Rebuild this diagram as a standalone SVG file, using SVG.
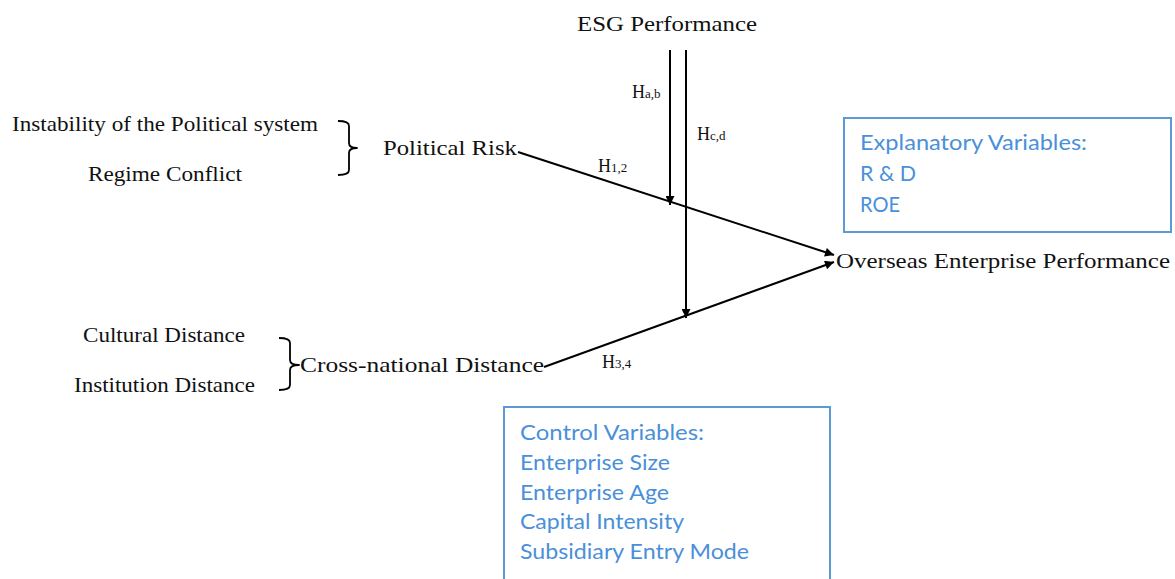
<svg xmlns="http://www.w3.org/2000/svg" width="1175" height="579" viewBox="0 0 1175 579">
<defs>
<marker id="arr" viewBox="0 0 10 10" refX="10" refY="5" markerWidth="10" markerHeight="9" orient="auto" markerUnits="userSpaceOnUse">
<path d="M0,0 L10,5 L0,10 z" fill="#000"/>
</marker>
<style>
.s{font-family:"Liberation Serif","Times New Roman",serif;font-size:22px;fill:#111}
.h{font-size:18px}
.sub{font-size:13px}
.b{font-family:Lato,"Open Sans",sans-serif;font-size:21px;fill:#4a90d9}
.box{fill:none;stroke:#5b9bd5;stroke-width:2}
.ln{stroke:#000;stroke-width:2;fill:none}
.br{stroke:#000;stroke-width:1.8;fill:none;stroke-linejoin:round}
</style>
</defs>
<rect width="1175" height="579" fill="#fff"/>
<g id="esg"><text class="s" x="577" y="31" textLength="180" lengthAdjust="spacingAndGlyphs">ESG Performance</text></g>
<g id="instability"><text class="s" x="12" y="131" textLength="306" lengthAdjust="spacingAndGlyphs">Instability of the Political system</text></g>
<g id="regime"><text class="s" x="88" y="181" textLength="154" lengthAdjust="spacingAndGlyphs">Regime Conflict</text></g>
<g id="political-risk">
<path class="br" d="M338,121 Q349,121 349,126 V143 Q349,148 357,148 Q349,148 349,153 V170 Q349,175 338,175"/>
<text class="s" x="383" y="155" textLength="134" lengthAdjust="spacingAndGlyphs">Political Risk</text>
</g>
<g id="cultural"><text class="s" x="83" y="342" textLength="162" lengthAdjust="spacingAndGlyphs">Cultural Distance</text></g>
<g id="institution"><text class="s" x="74" y="392" textLength="181" lengthAdjust="spacingAndGlyphs">Institution Distance</text></g>
<g id="cross-national">
<path class="br" d="M279,338 Q290,338 290,343 V360 Q290,365 299,365 Q290,365 290,370 V385 Q290,390 279,390"/>
<text class="s" x="300" y="372" textLength="244" lengthAdjust="spacingAndGlyphs">Cross-national Distance</text>
</g>
<g id="overseas"><text class="s" x="836" y="268" textLength="334" lengthAdjust="spacingAndGlyphs">Overseas Enterprise Performance</text></g>
<g id="explanatory">
<rect class="box" x="844" y="118" width="327" height="114"/>
<text class="b" x="860" y="150" textLength="227" lengthAdjust="spacingAndGlyphs">Explanatory Variables:</text>
<text class="b" x="860" y="181" textLength="56" lengthAdjust="spacingAndGlyphs">R &amp; D</text>
<text class="b" x="860" y="212" textLength="40" lengthAdjust="spacingAndGlyphs">ROE</text>
</g>
<g id="control">
<path class="box" d="M504,590 V407 H830 V590"/>
<text class="b" x="520" y="440" textLength="184" lengthAdjust="spacingAndGlyphs">Control Variables:</text>
<text class="b" x="520" y="470" textLength="150" lengthAdjust="spacingAndGlyphs">Enterprise Size</text>
<text class="b" x="520" y="500" textLength="149" lengthAdjust="spacingAndGlyphs">Enterprise Age</text>
<text class="b" x="520" y="529" textLength="164" lengthAdjust="spacingAndGlyphs">Capital Intensity</text>
<text class="b" x="520" y="559" textLength="229" lengthAdjust="spacingAndGlyphs">Subsidiary Entry Mode</text>
</g>
<g id="connectors">
<line class="ln" x1="518" y1="152" x2="834" y2="255" marker-end="url(#arr)"/>
<line class="ln" x1="544" y1="367" x2="834" y2="262" marker-end="url(#arr)"/>
<line class="ln" x1="670" y1="50" x2="670" y2="205" marker-end="url(#arr)"/>
<line class="ln" x1="686" y1="50" x2="686" y2="318" marker-end="url(#arr)"/>
<text class="s h" x="598" y="172">H<tspan class="sub">1,2</tspan></text>
<text class="s h" x="632" y="98">H<tspan class="sub">a,b</tspan></text>
<text class="s h" x="697" y="140">H<tspan class="sub">c,d</tspan></text>
<text class="s h" x="602" y="368">H<tspan class="sub">3,4</tspan></text>
</g>
</svg>
